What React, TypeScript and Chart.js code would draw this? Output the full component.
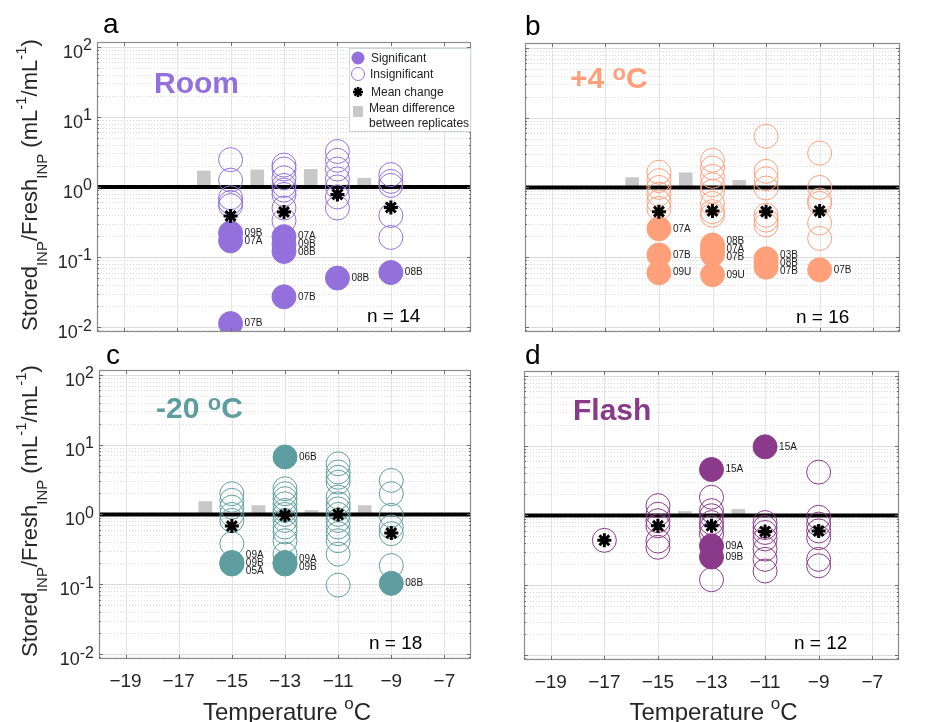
import React, { useEffect, useRef } from "react";
import { Chart, registerables } from "chart.js";

Chart.register(...registerables);

// ---------------- axis ticks ----------------
const xTickValues = [-19, -17, -15, -13, -11, -9, -7];
const xTickLabels = ["\u221219", "\u221217", "\u221215", "\u221213", "\u221211", "\u22129", "\u22127"];
const yTickValues = [0.01, 0.1, 1, 10, 100];
const yTickExponents = ["-2", "-1", "0", "1", "2"];

// ---------------- panel a : Room ----------------
const roomTemps = [-15, -13, -11, -9];
const roomInsignificant = [
  [2.45, 1.25, 0.7, 0.6, 0.54],
  [2.05, 1.8, 1.35, 1.05, 0.9, 0.78, 0.5, 0.33],
  [3.2, 2.4, 1.8, 1.3, 1.0, 0.72, 0.5],
  [1.5, 1.2, 1.05, 0.39, 0.19],
];
const roomMean = [0.385, 0.44, 0.78, 0.51];
const roomSignificant = [[0.22, 0.17, 0.0112], [0.195, 0.15, 0.12, 0.027], [0.05], [0.06]];
const roomSigLabels = [["09B", "07A", "07B"], ["07A", "09B", "08B", "07B"], ["08B"], ["08B"]];
const roomRepTemps = [-16, -14, -12, -10];
const roomRepDiff = [1.69, 1.75, 1.78, 1.33];

// ---------------- panel b : +4 C ----------------
const fridgeTemps = [-15, -13, -11, -9];
const fridgeInsignificant = [
  [1.65, 1.25, 1.0, 0.8, 0.62, 0.5],
  [2.45, 1.9, 1.44, 1.09, 0.88, 0.59, 0.45, 0.4],
  [5.4, 1.7, 1.33, 0.98, 0.4, 0.34, 0.29],
  [3.1, 1.0, 0.66, 0.59, 0.31, 0.186],
];
const fridgeMean = [0.45, 0.46, 0.45, 0.46];
const fridgeSignificant = [[0.255, 0.108, 0.06], [0.15, 0.13, 0.11, 0.056], [0.095, 0.083, 0.072], [0.066]];
const fridgeSigLabels = [["07A", "07B", "09U"], ["08B", "07A", "07B", "09U"], ["03B", "08B", "07B"], ["07B"]];
const fridgeRepTemps = [-16, -14, -12];
const fridgeRepDiff = [1.38, 1.62, 1.26];

// ---------------- panel c : -20 C ----------------
const freezerTemps = [-15, -13, -11, -9];
const freezerInsignificant = [
  [1.98, 1.59, 1.27, 1.0, 0.82, 0.38],
  [2.33, 1.98, 1.68, 1.42, 1.14, 1.0, 0.82, 0.66, 0.56, 0.42, 0.27],
  [5.3, 4.05, 3.4, 2.9, 1.77, 1.42, 1.2, 1.0, 0.82, 0.66, 0.53, 0.42, 0.27, 0.097],
  [3.07, 1.98, 0.97, 0.66, 0.53, 0.185],
];
const freezerMean = [0.68, 0.97, 1.0, 0.54];
const freezerSignificant = [[0.205, 0.2, 0.195], [6.65, 0.205, 0.195], [], [0.103]];
const freezerSigLabels = [["09A", "09B", "05A"], ["06B", "09A", "09B"], [], ["08B"]];
const freezerRepTemps = [-16, -14, -12, -10];
const freezerRepDiff = [1.53, 1.34, 1.14, 1.34];

// ---------------- panel d : Flash ----------------
const flashTemps = [-17, -15, -13, -11, -9];
const flashInsignificant = [
  [0.44],
  [1.38, 1.04, 0.84, 0.71, 0.43, 0.35],
  [1.82, 1.17, 0.99, 0.79, 0.67, 0.54, 0.12],
  [0.79, 0.67, 0.57, 0.46, 0.33, 0.235, 0.16],
  [4.17, 0.94, 0.75, 0.6, 0.48, 0.235, 0.19],
];
const flashMean = [0.44, 0.71, 0.71, 0.59, 0.6];
const flashSignificant = [[], [], [4.55, 0.365, 0.254], [9.6], []];
const flashSigLabels = [[], [], ["15A", "09A", "09B"], ["15A"], []];
const flashRepTemps = [-14, -12];
const flashRepDiff = [1.14, 1.22];

// ---------------- layout / style ----------------
const SANS = '"Liberation Sans", Arial, sans-serif';
const X_MIN = -20;
const X_MAX = -6;
const Y_MIN = 0.0085;
const Y_MAX = 117;

type Part = { t: string; size: number; dy: number; bold?: boolean };

type PanelDef = {
  letter: string;
  titleParts: Part[];
  color: string;
  temps: number[];
  insig: number[][];
  mean: number[];
  sig: number[][];
  sigLabels: string[][];
  repTemps: number[];
  rep: number[];
  n: string;
  box: { left: number; top: number; width: number; height: number };
  area: { x0: number; y0: number; x1: number; y1: number };
  yLabels: boolean;
  xLabels: boolean;
  legend: boolean;
  letterPos: [number, number];
  titlePos: [number, number];
  nPos: [number, number];
  yTitleCenter: number;
};

const degParts = (lead: string): Part[] => [
  { t: lead + " ", size: 30, dy: 0, bold: true },
  { t: "o", size: 22, dy: -8, bold: true },
  { t: "C", size: 30, dy: 0, bold: true },
];

const panels: PanelDef[] = [
  {
    letter: "a",
    titleParts: [{ t: "Room", size: 30, dy: 0, bold: true }],
    color: "#9370DB",
    temps: roomTemps,
    insig: roomInsignificant,
    mean: roomMean,
    sig: roomSignificant,
    sigLabels: roomSigLabels,
    repTemps: roomRepTemps,
    rep: roomRepDiff,
    n: "n = 14",
    box: { left: 0, top: 0, width: 476, height: 340 },
    area: { x0: 97, y0: 42, x1: 471, y1: 332 },
    yLabels: true,
    xLabels: false,
    legend: true,
    letterPos: [103, 33],
    titlePos: [154, 93],
    nPos: [367, 322],
    yTitleCenter: 185,
  },
  {
    letter: "b",
    titleParts: degParts("+4"),
    color: "#FFA07A",
    temps: fridgeTemps,
    insig: fridgeInsignificant,
    mean: fridgeMean,
    sig: fridgeSignificant,
    sigLabels: fridgeSigLabels,
    repTemps: fridgeRepTemps,
    rep: fridgeRepDiff,
    n: "n = 16",
    box: { left: 476, top: 0, width: 460, height: 340 },
    area: { x0: 525, y0: 43, x1: 900, y1: 332 },
    yLabels: false,
    xLabels: false,
    legend: false,
    letterPos: [525, 35],
    titlePos: [570, 88],
    nPos: [796, 323],
    yTitleCenter: 0,
  },
  {
    letter: "c",
    titleParts: degParts("-20"),
    color: "#5F9EA0",
    temps: freezerTemps,
    insig: freezerInsignificant,
    mean: freezerMean,
    sig: freezerSignificant,
    sigLabels: freezerSigLabels,
    repTemps: freezerRepTemps,
    rep: freezerRepDiff,
    n: "n = 18",
    box: { left: 0, top: 340, width: 476, height: 382 },
    area: { x0: 99, y0: 370, x1: 471, y1: 659 },
    yLabels: true,
    xLabels: true,
    legend: false,
    letterPos: [106, 364],
    titlePos: [156, 418],
    nPos: [369, 649],
    yTitleCenter: 511,
  },
  {
    letter: "d",
    titleParts: [{ t: "Flash", size: 30, dy: 0, bold: true }],
    color: "#8B3A8B",
    temps: flashTemps,
    insig: flashInsignificant,
    mean: flashMean,
    sig: flashSignificant,
    sigLabels: flashSigLabels,
    repTemps: flashRepTemps,
    rep: flashRepDiff,
    n: "n = 12",
    box: { left: 476, top: 340, width: 460, height: 382 },
    area: { x0: 524, y0: 371, x1: 899, y1: 660 },
    yLabels: false,
    xLabels: true,
    legend: false,
    letterPos: [525, 364],
    titlePos: [573, 420],
    nPos: [794, 649],
    yTitleCenter: 0,
  },
];

function partFont(p: Part) {
  return `${p.bold ? "bold " : ""}${p.size}px ${SANS}`;
}
function measureParts(ctx: CanvasRenderingContext2D, parts: Part[]) {
  let w = 0;
  for (const p of parts) {
    ctx.font = partFont(p);
    w += ctx.measureText(p.t).width;
  }
  return w;
}
function drawParts(ctx: CanvasRenderingContext2D, parts: Part[], x: number, y: number) {
  let cx = x;
  for (const p of parts) {
    ctx.font = partFont(p);
    ctx.fillText(p.t, cx, y + p.dy);
    cx += ctx.measureText(p.t).width;
  }
}
function drawAsterisk(ctx: CanvasRenderingContext2D, x: number, y: number, r: number, lw: number) {
  ctx.save();
  ctx.strokeStyle = "#000";
  ctx.lineWidth = lw;
  ctx.beginPath();
  for (let k = 0; k < 4; k++) {
    const a = (k * Math.PI) / 4;
    ctx.moveTo(x - Math.cos(a) * r, y - Math.sin(a) * r);
    ctx.lineTo(x + Math.cos(a) * r, y + Math.sin(a) * r);
  }
  ctx.stroke();
  ctx.restore();
}

const yTitleParts: Part[] = [
  { t: "Stored", size: 22, dy: 0 },
  { t: "INP", size: 15, dy: 10 },
  { t: "/Fresh", size: 22, dy: 0 },
  { t: "INP", size: 15, dy: 10 },
  { t: " (mL", size: 22, dy: 0 },
  { t: "-1", size: 15, dy: -11 },
  { t: "/mL", size: 22, dy: 0 },
  { t: "-1", size: 15, dy: -11 },
  { t: ")", size: 22, dy: 0 },
];
const xTitleParts: Part[] = [
  { t: "Temperature ", size: 24, dy: 0 },
  { t: "o", size: 17, dy: -11 },
  { t: "C", size: 24, dy: 0 },
];

function makePlugin(p: PanelDef) {
  const ox = p.box.left;
  const oy = p.box.top;
  return {
    id: "panelDecor" + p.letter,
    beforeDatasetsDraw(chart: any) {
      const { ctx, chartArea: a, scales } = chart;
      const xs = scales.x;
      const ys = scales.y;
      ctx.save();
      ctx.lineWidth = 1;
      ctx.strokeStyle = "#e4e4e4";
      ctx.setLineDash([]);
      for (const v of xTickValues) {
        const px = Math.round(xs.getPixelForValue(v)) + 0.5;
        ctx.beginPath();
        ctx.moveTo(px, a.top);
        ctx.lineTo(px, a.bottom);
        ctx.stroke();
      }
      for (let e = -3; e <= 2; e++) {
        for (let m = 1; m <= 9; m++) {
          const v = m * Math.pow(10, e);
          if (v < Y_MIN || v > Y_MAX) continue;
          const py = Math.round(ys.getPixelForValue(v)) + 0.5;
          if (m === 1) {
            ctx.strokeStyle = "#dcdcdc";
            ctx.setLineDash([]);
          } else {
            ctx.strokeStyle = "#d9d9d9";
            ctx.setLineDash([1, 2]);
          }
          ctx.beginPath();
          ctx.moveTo(a.left, py);
          ctx.lineTo(a.right, py);
          ctx.stroke();
        }
      }
      ctx.restore();
    },
    afterDatasetsDraw(chart: any) {
      const { ctx, chartArea: a, scales } = chart;
      const xs = scales.x;
      const ys = scales.y;
      ctx.save();
      ctx.setLineDash([]);
      ctx.strokeStyle = "#8c8c8c";
      ctx.lineWidth = 1.2;
      ctx.strokeRect(a.left + 0.5, a.top + 0.5, a.right - a.left - 1, a.bottom - a.top - 1);
      ctx.strokeStyle = "#6e6e6e";
      ctx.lineWidth = 1;
      ctx.beginPath();
      for (const v of xTickValues) {
        const px = Math.round(xs.getPixelForValue(v)) + 0.5;
        ctx.moveTo(px, a.top);
        ctx.lineTo(px, a.top + 4);
        ctx.moveTo(px, a.bottom);
        ctx.lineTo(px, a.bottom - 4);
      }
      for (let e = -3; e <= 2; e++) {
        for (let m = 1; m <= 9; m++) {
          const v = m * Math.pow(10, e);
          if (v < Y_MIN || v > Y_MAX) continue;
          const py = Math.round(ys.getPixelForValue(v)) + 0.5;
          const len = m === 1 ? 4 : 2;
          ctx.moveTo(a.left, py);
          ctx.lineTo(a.left + len, py);
          ctx.moveTo(a.right, py);
          ctx.lineTo(a.right - len, py);
        }
      }
      ctx.stroke();

      // significant labels (stacked when crowded)
      ctx.fillStyle = "#1a1a1a";
      ctx.font = `10px ${SANS}`;
      ctx.textAlign = "left";
      ctx.textBaseline = "middle";
      const gap = 8;
      p.temps.forEach((t, i) => {
        const vals = p.sig[i] || [];
        const labs = p.sigLabels[i] || [];
        const items = vals
          .map((v, k) => ({ y: ys.getPixelForValue(v), text: labs[k] }))
          .sort((u, w) => u.y - w.y);
        let clusters = items.map((it) => ({ items: [it], center: it.y }));
        let merged = true;
        while (merged) {
          merged = false;
          for (let c = 0; c < clusters.length - 1; c++) {
            const A = clusters[c];
            const B = clusters[c + 1];
            const aBot = A.center + ((A.items.length - 1) * gap) / 2;
            const bTop = B.center - ((B.items.length - 1) * gap) / 2;
            if (bTop - aBot < gap - 0.01) {
              const its = A.items.concat(B.items);
              const center = its.reduce((s, q) => s + q.y, 0) / its.length;
              clusters.splice(c, 2, { items: its, center });
              merged = true;
              break;
            }
          }
        }
        const px = xs.getPixelForValue(t) + 14;
        for (const cl of clusters) {
          cl.items.forEach((it, k) => {
            const yy = cl.center - ((cl.items.length - 1) * gap) / 2 + k * gap;
            ctx.fillText(it.text, px, yy);
          });
        }
      });
      ctx.restore();
    },
    afterDraw(chart: any) {
      const { ctx, chartArea: a, scales } = chart;
      const ys = scales.y;
      ctx.save();
      ctx.textAlign = "left";
      ctx.textBaseline = "alphabetic";

      if (p.yLabels) {
        ctx.fillStyle = "#262626";
        yTickValues.forEach((v, i) => {
          const py = ys.getPixelForValue(v);
          ctx.font = `18px ${SANS}`;
          const wb = ctx.measureText("10").width;
          ctx.font = `16px ${SANS}`;
          const we = ctx.measureText(yTickExponents[i]).width;
          const right = a.left - 5;
          ctx.font = `18px ${SANS}`;
          ctx.fillText("10", right - we - wb, py + 11);
          ctx.font = `16px ${SANS}`;
          ctx.fillText(yTickExponents[i], right - we, py + 3.5);
        });
        ctx.save();
        ctx.fillStyle = "#262626";
        ctx.translate(37 - ox, p.yTitleCenter - oy);
        ctx.rotate(-Math.PI / 2);
        const w = measureParts(ctx, yTitleParts);
        drawParts(ctx, yTitleParts, -w / 2, 0);
        ctx.restore();
      }
      if (p.xLabels) {
        ctx.fillStyle = "#262626";
        const w = measureParts(ctx, xTitleParts);
        const cx = (a.left + a.right) / 2 + 2;
        drawParts(ctx, xTitleParts, cx - w / 2, 720 - oy);
      }
      ctx.fillStyle = "#000";
      ctx.font = `28px ${SANS}`;
      ctx.fillText(p.letter, p.letterPos[0] - ox, p.letterPos[1] - oy);
      ctx.fillStyle = p.color;
      drawParts(ctx, p.titleParts, p.titlePos[0] - ox, p.titlePos[1] - oy);
      ctx.fillStyle = "#000";
      ctx.font = `19px ${SANS}`;
      ctx.fillText(p.n, p.nPos[0] - ox, p.nPos[1] - oy);

      if (p.legend) {
        const lx = 349 - ox;
        const ly = 48 - oy;
        ctx.fillStyle = "#ffffff";
        ctx.fillRect(lx, ly, 121, 83);
        ctx.strokeStyle = "#cdd6d6";
        ctx.lineWidth = 1;
        ctx.strokeRect(lx + 0.5, ly + 0.5, 121, 83);
        ctx.fillStyle = p.color;
        ctx.beginPath();
        ctx.arc(lx + 9, ly + 10, 6.5, 0, Math.PI * 2);
        ctx.fill();
        ctx.strokeStyle = p.color;
        ctx.beginPath();
        ctx.arc(lx + 9, ly + 26, 6.5, 0, Math.PI * 2);
        ctx.stroke();
        drawAsterisk(ctx, lx + 9, ly + 44, 5, 2.5);
        ctx.fillStyle = "#c8c8c8";
        ctx.fillRect(lx + 4, ly + 58, 10, 11);
        ctx.fillStyle = "#222";
        ctx.font = `12px ${SANS}`;
        ctx.textBaseline = "middle";
        ctx.fillText("Significant", lx + 22, ly + 11);
        ctx.fillText("Insignificant", lx + 21, ly + 27);
        ctx.fillText("Mean change", lx + 22, ly + 45);
        ctx.fillText("Mean difference", lx + 20, ly + 61);
        ctx.fillText("between replicates", lx + 20, ly + 76);
      }
      ctx.restore();
    },
  };
}

function buildConfig(p: PanelDef): any {
  const insigData = p.temps.flatMap((t, i) => p.insig[i].map((v) => ({ x: t, y: v })));
  const sigData = p.temps.flatMap((t, i) => (p.sig[i] || []).map((v) => ({ x: t, y: v })));
  const meanData = p.temps.map((t, i) => ({ x: t, y: p.mean[i] }));
  const repData = p.repTemps.map((t, i) => ({ x: t, y: [1, p.rep[i]] }));
  const yAxisWidth = p.area.x0 - p.box.left;
  const xAxisHeight = p.box.top + p.box.height - p.area.y1;
  return {
    type: "scatter",
    data: {
      datasets: [
        {
          type: "bar",
          label: "Mean difference between replicates",
          data: repData,
          backgroundColor: "#c8c8c8",
          borderWidth: 0,
          barThickness: 13,
          order: 4,
        },
        {
          type: "line",
          label: "unity",
          data: [
            { x: X_MIN, y: 1 },
            { x: X_MAX, y: 1 },
          ],
          borderColor: "#000",
          borderWidth: 4,
          pointRadius: 0,
          order: 3,
        },
        {
          label: "Insignificant",
          data: insigData,
          pointRadius: 12,
          pointBorderWidth: 1,
          borderColor: p.color,
          backgroundColor: "rgba(0,0,0,0)",
          pointBackgroundColor: "rgba(0,0,0,0)",
          pointBorderColor: p.color,
          order: 2,
        },
        {
          label: "Significant",
          data: sigData,
          pointRadius: 12,
          pointBorderWidth: 1,
          borderColor: p.color,
          backgroundColor: p.color,
          pointBackgroundColor: p.color,
          pointBorderColor: p.color,
          order: 1,
        },
        {
          label: "Mean change",
          data: meanData,
          pointStyle: "star",
          pointRadius: 7,
          pointBorderWidth: 3,
          pointBorderColor: "#000",
          borderColor: "#000",
          order: 0,
        },
      ],
    },
    options: {
      animation: false,
      responsive: false,
      maintainAspectRatio: false,
      devicePixelRatio: 1,
      events: [],
      layout: {
        autoPadding: false,
        padding: {
          left: 0,
          bottom: 0,
          top: p.area.y0 - p.box.top,
          right: p.box.left + p.box.width - p.area.x1,
        },
      },
      plugins: { legend: { display: false }, tooltip: { enabled: false }, title: { display: false } },
      scales: {
        x: {
          type: "linear",
          min: X_MIN,
          max: X_MAX,
          offset: false,
          position: "bottom",
          grid: { display: false, drawTicks: false, offset: false },
          border: { display: false },
          ticks: {
            display: p.xLabels,
            padding: 11,
            color: "#262626",
            font: { family: SANS, size: 19 },
            maxRotation: 0,
            autoSkip: false,
            callback: (_v: any, i: number) => xTickLabels[i],
          },
          afterBuildTicks: (s: any) => {
            s.ticks = xTickValues.map((v) => ({ value: v }));
          },
          afterFit: (s: any) => {
            s.height = xAxisHeight;
          },
        },
        y: {
          type: "logarithmic",
          min: Y_MIN,
          max: Y_MAX,
          position: "left",
          grid: { display: false, drawTicks: false },
          border: { display: false },
          ticks: { display: false },
          afterBuildTicks: (s: any) => {
            s.ticks = yTickValues.map((v) => ({ value: v, major: true }));
          },
          afterFit: (s: any) => {
            s.width = yAxisWidth;
          },
        },
      },
    },
    plugins: [makePlugin(p)],
  };
}

function PanelChart({ p }: { p: PanelDef }) {
  const ref = useRef<HTMLCanvasElement | null>(null);
  useEffect(() => {
    if (!ref.current) return;
    const chart = new Chart(ref.current, buildConfig(p));
    return () => chart.destroy();
  }, [p]);
  return (
    <canvas
      ref={ref}
      width={p.box.width}
      height={p.box.height}
      style={{
        position: "absolute",
        left: p.box.left,
        top: p.box.top,
        width: p.box.width,
        height: p.box.height,
      }}
    />
  );
}

export default function App() {
  return (
    <div
      style={{
        position: "absolute",
        left: 0,
        top: 0,
        width: 936,
        height: 722,
        background: "#ffffff",
        overflow: "hidden",
      }}
    >
      {panels.map((p) => (
        <PanelChart key={p.letter} p={p} />
      ))}
    </div>
  );
}
